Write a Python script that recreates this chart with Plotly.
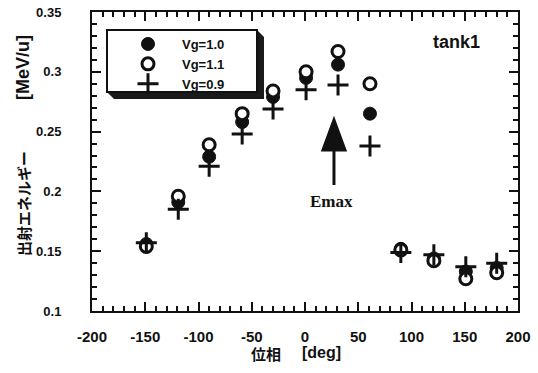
import plotly.graph_objects as go

# ---- data ----
phase = [-149, -119, -90, -59, -30, 1, 31, 61, 90, 121, 151, 180]
e_vg10 = [0.156, 0.191, 0.229, 0.258, 0.279, 0.295, 0.306, 0.265, 0.152, 0.144, 0.133, 0.136]
e_vg11 = [0.154, 0.196, 0.239, 0.265, 0.284, 0.300, 0.317, 0.290, 0.151, 0.142, 0.127, 0.132]
e_vg09 = [0.157, 0.185, 0.221, 0.248, 0.269, 0.285, 0.289, 0.238, 0.149, 0.147, 0.137, 0.140]
series_names = ["Vg=1.0", "Vg=1.1", "Vg=0.9"]
x_ticks = [-200, -150, -100, -50, 0, 50, 100, 150, 200]
y_ticks = [0.1, 0.15, 0.2, 0.25, 0.3, 0.35]
y_ticklabels = ["0.1", "0.15", "0.2", "0.25", "0.3", "0.35"]
emax_phase = 27.2
emax_energy = 0.2597

W, H = 538, 373
L, R, T, B = 92, 518, 12, 311  # plot area in pixels


def px(xp):
    return (xp - L) / (R - L)


def py(yp):
    return (B - yp) / (B - T)


SANS = "Liberation Sans, Arial, sans-serif"
CJK = "Noto Sans CJK JP, sans-serif"
SERIF = "Liberation Serif, Times New Roman, serif"
INK = "#111111"

fig = go.Figure()
fig.add_trace(go.Scatter(
    x=phase, y=e_vg10, mode="markers", name=series_names[0],
    marker=dict(symbol="circle", size=13, color=INK, line=dict(color=INK, width=1)),
))
fig.add_trace(go.Scatter(
    x=phase, y=e_vg11, mode="markers", name=series_names[1],
    marker=dict(symbol="circle", size=12, color="white", line=dict(color=INK, width=3)),
))
fig.add_trace(go.Scatter(
    x=phase, y=e_vg09, mode="markers", name=series_names[2],
    marker=dict(symbol="cross-thin", size=15, color=INK, line=dict(color=INK, width=3)),
))

axis_common = dict(
    showgrid=False, zeroline=False, showline=True, linecolor=INK, linewidth=2,
    mirror="ticks", ticks="inside", ticklen=9, tickwidth=2, tickcolor=INK,
    automargin=False,
)

fig.update_xaxes(
    range=[-200, 200], tickvals=x_ticks, ticktext=[str(v) for v in x_ticks],
    tickfont=dict(family=SANS, size=15, color=INK, weight="bold"),
    ticklabelstandoff=11,
    minor=dict(dtick=10, ticks="inside", ticklen=5, tickwidth=2, tickcolor=INK),
    **axis_common,
)
fig.update_yaxes(
    range=[0.1, 0.35], tickvals=y_ticks, ticktext=y_ticklabels,
    tickfont=dict(family=SANS, size=13, color=INK, weight="bold"),
    ticklabelstandoff=26,
    minor=dict(dtick=0.01, ticks="inside", ticklen=5, tickwidth=2, tickcolor=INK),
    **axis_common,
)

shapes = [
    # legend shadow
    dict(type="path", xref="paper", yref="paper",
         path=f"M {px(257)},{py(30)} L {px(264)},{py(37)} L {px(264)},{py(99)} "
              f"L {px(114)},{py(99)} L {px(107)},{py(92)} Z",
         fillcolor="#1a1a1a", line=dict(width=0), layer="above"),
    # legend box
    dict(type="rect", xref="paper", yref="paper",
         x0=px(107), x1=px(257), y0=py(92), y1=py(30),
         fillcolor="white", line=dict(color=INK, width=2), layer="above"),
    # Emax arrow (pixel-sized, anchored at tip)
    dict(type="path", xref="x", yref="y", xsizemode="pixel", ysizemode="pixel",
         xanchor=emax_phase, yanchor=emax_energy,
         path="M -11,-30 L 11,-30 L 0,0 Z M 0,-30 L 0,-65",
         fillcolor=INK, line=dict(color=INK, width=3), layer="above"),
]


def note(text, x, y, font, angle=0):
    return dict(text=text, xref="paper", yref="paper", x=px(x), y=py(y),
                xanchor="center", yanchor="middle", textangle=angle,
                showarrow=False, font=font)


annotations = [
    note("tank1", 456, 42, dict(family=SANS, size=18, color=INK, weight="bold")),
    note("Emax", 331, 201, dict(family=SERIF, size=17, color=INK, weight="bold")),
    note("出射エネルギー", 23, 204, dict(family=CJK, size=15, color=INK, weight="bold"), -90),
    note("[MeV/u]", 23, 68, dict(family=SANS, size=18, color=INK, weight="bold"), -90),
    note("位相", 266, 353, dict(family=CJK, size=15, color=INK, weight="bold")),
    note("[deg]", 321, 352, dict(family=SANS, size=16, color=INK, weight="bold")),
]

fig.update_layout(
    width=W, height=H,
    margin=dict(l=L, r=W - R, t=T, b=H - B, autoexpand=False),
    paper_bgcolor="white", plot_bgcolor="white",
    showlegend=True,
    legend=dict(x=px(114), y=py(29), xanchor="left", yanchor="top",
                bgcolor="rgba(0,0,0,0)", borderwidth=0,
                font=dict(family=SANS, size=13, color=INK, weight="bold"),
                itemwidth=58, tracegroupgap=0),
    shapes=shapes, annotations=annotations,
)

fig.write_html("out.html")
